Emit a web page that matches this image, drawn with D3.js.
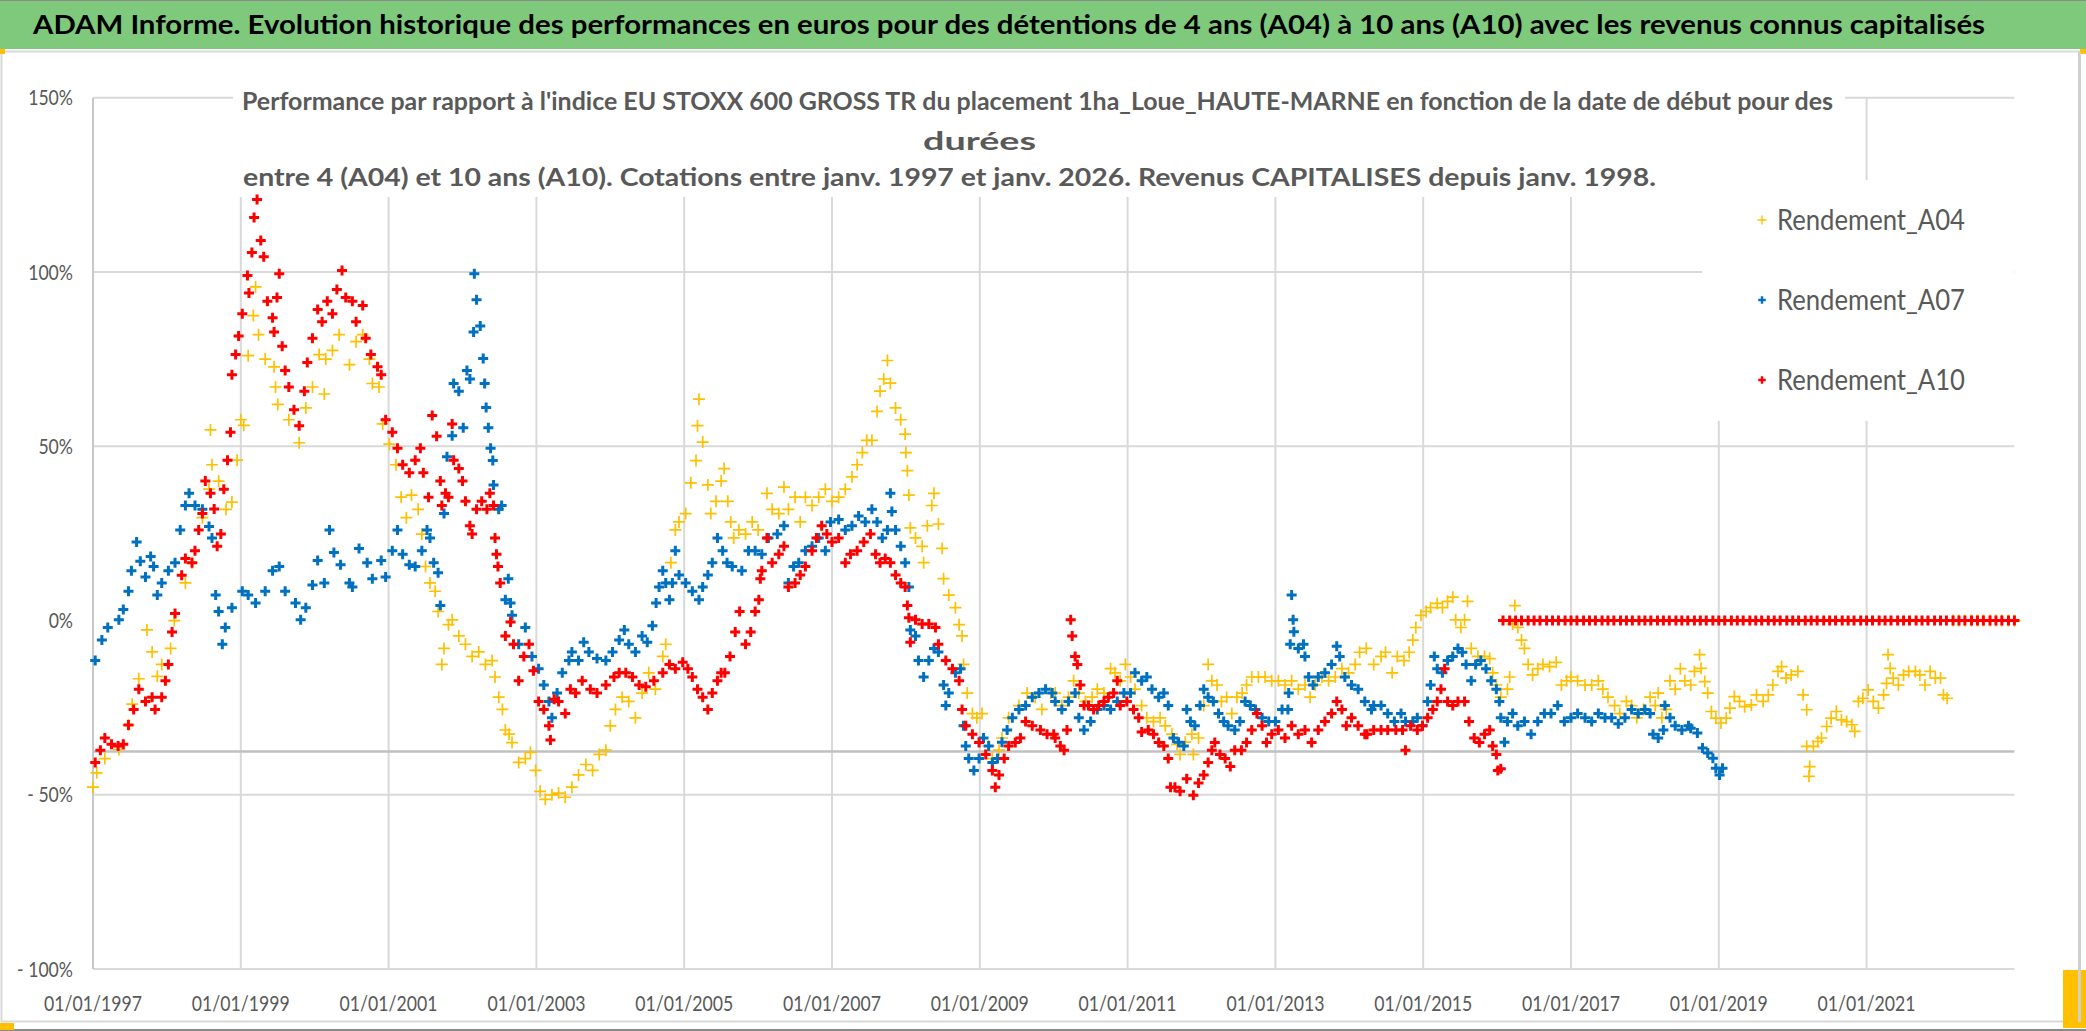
<!DOCTYPE html>
<html>
<head>
<meta charset="utf-8">
<script src="https://cdn.jsdelivr.net/npm/d3@7"></script>
<style>
html, body { margin: 0; padding: 0; background: #fff; }
svg { display: block; font-family: Lato, "Open Sans", sans-serif; }
</style>
</head>
<body>
<svg id="chart" width="2086" height="1031"></svg>
<script>
const W = 2086, H = 1031

const mainTitle = "ADAM Informe. Evolution historique des performances en euros pour des détentions de 4 ans (A04) à 10 ans (A10) avec les revenus connus capitalisés"
const subTitle = [
  "Performance par rapport à l'indice EU STOXX 600 GROSS TR  du placement 1ha_Loue_HAUTE-MARNE en fonction de la date de début pour des",
  "durées",
  "entre 4 (A04) et 10 ans (A10). Cotations entre janv. 1997 et janv. 2026. Revenus CAPITALISES depuis janv. 1998."
]

const seriesNames  = ["Rendement_A04", "Rendement_A07", "Rendement_A10"]
const yTicks       = [150, 100, 50, 0, -50, -100]
const yTickLabels  = ["150%", "100%", "50%", "0%", "- 50%", "- 100%"]
const xTicks       = [1997, 1999, 2001, 2003, 2005, 2007, 2009, 2011, 2013, 2015, 2017, 2019, 2021]
const xTickLabels  = ["01/01/1997", "01/01/1999", "01/01/2001", "01/01/2003", "01/01/2005", "01/01/2007", "01/01/2009",
                      "01/01/2011", "01/01/2013", "01/01/2015", "01/01/2017", "01/01/2019", "01/01/2021"]
const xDomain      = [1997, 2023]
const yDomain      = [-100, 150]
const crossLine    = -37.6   // darker horizontal line of the chart

// [date as decimal year, performance %]
const A04 = [
  [1997.00,-47.8],[1997.05,-43.7],[1997.16,-39.6],[1997.35,-37],[1997.48,-30],[1997.53,-24],[1997.62,-16.7],[1997.73,-2.7],
  [1997.80,-9],[1997.87,-16],[1997.93,-12.6],[1998.05,-8],[1998.10,0],[1998.25,10.8],[1998.34,16.6],[1998.48,29.5],
  [1998.57,37.7],[1998.61,44.7],[1998.59,54.7],[1998.70,40],[1998.80,31.9],[1998.88,34],[1998.95,46],[1999.00,57.6],
  [1999.04,56],[1999.10,76],[1999.17,87.5],[1999.20,95.7],[1999.24,82],[1999.33,75],[1999.45,72.8],[1999.47,67],
  [1999.50,62],[1999.65,57.6],[1999.79,51],[1999.88,61],[1999.97,67],[2000.06,76.3],[2000.13,65],[2000.15,75],
  [2000.24,77.5],[2000.33,82],[2000.47,73.4],[2000.56,80],[2000.65,82],[2000.74,75],[2000.78,68],[2000.87,67],
  [2000.92,56.4],[2001.01,50.6],[2001.10,44.7],[2001.17,35.4],[2001.24,29.5],[2001.31,36],[2001.40,31.9],[2001.45,24.8],
  [2001.50,15.5],[2001.56,10.8],[2001.63,8.4],[2001.67,2.6],[2001.72,-12.6],[2001.75,-8],[2001.81,-1.2],[2001.86,0.2],
  [2001.95,-4.4],[2002.04,-6.8],[2002.13,-10.3],[2002.22,-9],[2002.31,-12.6],[2002.40,-11.5],[2002.44,-16.2],[2002.49,-22],
  [2002.54,-25.5],[2002.58,-31.4],[2002.63,-32.6],[2002.67,-35],[2002.76,-40.7],[2002.85,-39.6],[2002.92,-37.8],[2002.99,-43],
  [2003.05,-49],[2003.12,-51.3],[2003.21,-50],[2003.30,-49.5],[2003.39,-50.7],[2003.48,-47.8],[2003.57,-44.3],[2003.67,-41.3],
  [2003.76,-43],[2003.85,-38.4],[2003.94,-37.2],[2004.00,-30.2],[2004.07,-25.5],[2004.16,-22],[2004.25,-23.2],[2004.34,-27.9],
  [2004.43,-20.8],[2004.52,-15],[2004.61,-19.7],[2004.71,-10.3],[2004.75,-6.8],[2004.82,16.6],[2004.88,26],[2004.93,28.3],
  [2005.02,30.7],[2005.09,39.5],[2005.16,45.9],[2005.18,55.9],[2005.20,63.5],[2005.25,51.2],[2005.32,38.9],[2005.36,30.7],
  [2005.43,34.2],[2005.50,40],[2005.54,43.6],[2005.59,34.2],[2005.63,28.3],[2005.67,23.7],[2005.74,26],[2005.83,24.8],
  [2005.92,28.3],[2006.00,26],[2006.12,36.5],[2006.19,31.9],[2006.28,30.7],[2006.35,38.3],[2006.41,31.9],[2006.50,35.4],
  [2006.57,28.3],[2006.64,35.4],[2006.73,33],[2006.82,35.4],[2006.91,37.7],[2007.00,34.2],[2007.09,35.4],[2007.18,37.7],
  [2007.27,41.2],[2007.34,44.7],[2007.41,48.2],[2007.47,51.7],[2007.54,51.7],[2007.61,60],[2007.65,65.8],[2007.70,69.3],
  [2007.75,74.6],[2007.79,68.1],[2007.86,61],[2007.93,57.6],[2007.99,53.5],[2008.00,48.2],[2008.02,43],[2008.04,36],
  [2008.06,26.6],[2008.13,23.7],[2008.22,21.3],[2008.24,16.6],[2008.29,27.2],[2008.35,33],[2008.38,36.5],[2008.44,27.7],
  [2008.49,20.7],[2008.51,12],[2008.58,7.3],[2008.67,3.7],[2008.72,-1.2],[2008.76,-4.4],[2008.78,-12.6],[2008.83,-20.8],
  [2008.90,-26.7],[2008.96,-27.9],[2009.03,-26.7],[2009.12,-36],[2009.17,-39.6],[2009.26,-37.2],[2009.30,-33.7],[2009.39,-27.9],
  [2009.53,-24.4],[2009.64,-20.8],[2009.75,-22],[2009.84,-25.5],[2009.96,-20.8],[2010.02,-20.8],[2010.11,-24.4],[2010.20,-22],
  [2010.27,-17.3],[2010.34,-20.8],[2010.43,-23.2],[2010.52,-22],[2010.59,-19.7],[2010.68,-20.8],[2010.77,-13.8],[2010.83,-15],
  [2010.90,-17.3],[2010.97,-12.6],[2011.04,-16.2],[2011.10,-19.7],[2011.19,-24.4],[2011.26,-27.9],[2011.35,-29],[2011.44,-27.9],
  [2011.51,-30.2],[2011.60,-32.6],[2011.67,-35.5],[2011.71,-38.4],[2011.78,-34.9],[2011.87,-32.6],[2011.89,-38.4],[2011.96,-33.7],
  [2012.03,-24.4],[2012.09,-12.6],[2012.14,-17.3],[2012.21,-18.5],[2012.27,-23.2],[2012.34,-22],[2012.41,-26.7],[2012.48,-22],
  [2012.55,-20.8],[2012.61,-18.5],[2012.68,-16.2],[2012.77,-16.2],[2012.86,-16.2],[2012.95,-17.3],[2013.04,-17.3],[2013.13,-18.5],
  [2013.22,-17.3],[2013.31,-19.7],[2013.40,-18.5],[2013.47,-22],[2013.54,-18.5],[2013.63,-16.2],[2013.72,-17.3],[2013.81,-16.2],
  [2013.90,-13.8],[2013.99,-15],[2014.08,-12.6],[2014.14,-9.1],[2014.23,-8],[2014.33,-12.6],[2014.43,-10.3],[2014.49,-9.1],
  [2014.58,-15],[2014.65,-10.3],[2014.74,-11.5],[2014.81,-9.1],[2014.86,-5.6],[2014.90,-2],[2014.97,1.5],[2015.04,2.6],
  [2015.10,3.7],[2015.19,4.9],[2015.26,3.7],[2015.33,5.5],[2015.40,6.7],[2015.44,0.2],[2015.51,-2],[2015.56,0.2],
  [2015.60,5.5],[2015.65,-8],[2015.74,-10.3],[2015.83,-10.3],[2015.90,-10.9],[2015.94,-15],[2015.99,-18.5],[2016.05,-22],
  [2016.14,-19.7],[2016.17,-16.2],[2016.21,-1],[2016.24,4.3],[2016.28,-2],[2016.33,-5.6],[2016.37,-8],[2016.42,-12.6],
  [2016.48,-15.6],[2016.55,-13.8],[2016.62,-12.6],[2016.71,-13.2],[2016.80,-12],[2016.87,-18.5],[2016.94,-17.3],[2017.00,-16.2],
  [2017.09,-17.3],[2017.19,-18.5],[2017.28,-18.5],[2017.37,-17.3],[2017.43,-19.7],[2017.50,-22],[2017.59,-24.4],[2017.66,-26.7],
  [2017.75,-23.2],[2017.82,-24.4],[2017.89,-27.9],[2017.98,-25.5],[2018.07,-22],[2018.14,-24.4],[2018.18,-20.8],[2018.23,-27.9],
  [2018.29,-25.5],[2018.34,-17.3],[2018.41,-19.7],[2018.48,-13.8],[2018.54,-17.3],[2018.62,-18.5],[2018.67,-14.6],[2018.74,-9.8],
  [2018.76,-13.7],[2018.81,-17.5],[2018.85,-20.8],[2018.90,-26.1],[2018.96,-28],[2019.03,-29.4],[2019.10,-28],[2019.15,-25.1],
  [2019.21,-21.8],[2019.28,-23.2],[2019.35,-24.7],[2019.44,-24.2],[2019.51,-21.3],[2019.60,-23.2],[2019.67,-21.3],[2019.73,-18.5],
  [2019.80,-14.6],[2019.85,-13.2],[2019.91,-16.5],[2019.98,-15.6],[2020.07,-14.6],[2020.14,-21.3],[2020.19,-25.6],[2020.19,-36.1],
  [2020.22,-44.7],[2020.23,-41.9],[2020.28,-36.1],[2020.34,-34.7],[2020.39,-33.7],[2020.46,-30.4],[2020.52,-28],[2020.59,-26.1],
  [2020.66,-28.5],[2020.73,-29],[2020.80,-29.9],[2020.84,-31.8],[2020.89,-23.2],[2020.95,-22.3],[2021.02,-19.9],[2021.09,-23.2],
  [2021.16,-25.1],[2021.23,-21.3],[2021.27,-18],[2021.29,-9.8],[2021.32,-13.7],[2021.36,-16.5],[2021.43,-18.5],[2021.50,-15.6],
  [2021.57,-14.6],[2021.66,-14.6],[2021.72,-15.6],[2021.79,-18.5],[2021.86,-14.6],[2021.93,-16.5],[2022.00,-16.5],[2022.04,-21.3],
  [2022.09,-22.3],[2022.17,0],[2022.25,0],[2022.33,0],[2022.42,0],[2022.50,0],[2022.58,0],[2022.67,0],[2022.75,0],[2022.83,0],
  [2022.92,0],[2023.00,0]
]

const A07 = [
  [1997.03,-11.5],[1997.12,-5.6],[1997.20,-2],[1997.35,0.2],[1997.41,3.2],[1997.48,8.4],[1997.52,14.3],[1997.59,22.5],
  [1997.64,17],[1997.71,12.5],[1997.78,18.4],[1997.82,15.5],[1997.87,7.3],[1997.93,10.8],[1998.02,14.3],[1998.11,16.6],
  [1998.18,26],[1998.25,33],[1998.30,36.5],[1998.38,33],[1998.48,31.9],[1998.57,27],[1998.61,23.7],[1998.66,7.3],
  [1998.70,2.6],[1998.75,-6.8],[1998.79,-2],[1998.88,3.7],[1999.02,8.4],[1999.10,7.3],[1999.20,5],[1999.33,8.4],
  [1999.43,14.3],[1999.52,15.5],[1999.60,8.4],[1999.74,5],[1999.81,0.2],[1999.88,3.7],[1999.97,10.2],[2000.04,17.2],
  [2000.13,10.8],[2000.20,26],[2000.26,19.5],[2000.35,16],[2000.47,10.8],[2000.51,9.6],[2000.60,20.7],[2000.71,16.6],
  [2000.78,12],[2000.90,17.2],[2000.96,12.5],[2001.05,20],[2001.12,26],[2001.19,19],[2001.28,16],[2001.36,15.5],
  [2001.45,20],[2001.52,26],[2001.56,23.7],[2001.61,16.6],[2001.67,13.7],[2001.70,4.3],[2001.75,30.7],[2001.79,47],
  [2001.86,53],[2001.88,68],[2001.95,65.8],[2002.01,55.3],[2002.06,71.7],[2002.10,69.3],[2002.15,82.8],[2002.16,99.5],
  [2002.19,92],[2002.24,84.5],[2002.28,75.2],[2002.30,68],[2002.32,61.1],[2002.35,55.3],[2002.38,49.4],[2002.41,45.9],
  [2002.42,38.9],[2002.49,31.9],[2002.53,33],[2002.58,6],[2002.62,12],[2002.65,5],[2002.67,1.5],[2002.76,-6.8],
  [2002.85,-2],[2002.94,-10.3],[2003.03,-13.8],[2003.10,-18.5],[2003.17,-23.2],[2003.21,-27.9],[2003.28,-20.8],[2003.35,-15],
  [2003.44,-11.5],[2003.48,-9],[2003.57,-11.5],[2003.64,-6.2],[2003.71,-9],[2003.82,-10.9],[2003.94,-11.5],[2004.03,-9],
  [2004.12,-5.6],[2004.19,-2.7],[2004.25,-6.8],[2004.34,-9],[2004.43,-4.4],[2004.50,-6.2],[2004.57,-1.5],[2004.62,5],
  [2004.66,9.6],[2004.71,14.3],[2004.75,10.8],[2004.80,6],[2004.84,10.8],[2004.88,20],[2004.93,13.1],[2005.02,10.8],
  [2005.11,8.4],[2005.20,6],[2005.25,9.6],[2005.32,13.1],[2005.38,16.6],[2005.45,23.7],[2005.52,20],[2005.58,16.6],
  [2005.65,15.5],[2005.78,14.3],[2005.87,20],[2005.96,20],[2006.05,19],[2006.14,23.7],[2006.26,24.8],[2006.35,27.2],
  [2006.41,10.8],[2006.48,15.5],[2006.55,16.6],[2006.64,20],[2006.73,21.3],[2006.82,23.7],[2006.91,20],[2006.98,28.3],
  [2007.09,29],[2007.18,26],[2007.27,27.2],[2007.36,30],[2007.45,28.3],[2007.54,31.9],[2007.61,28.3],[2007.68,23.7],
  [2007.75,26],[2007.79,36.5],[2007.81,31.3],[2007.86,26],[2007.93,21.3],[2007.99,16.6],[2008.04,9.6],[2008.06,-2.7],
  [2008.13,-4.4],[2008.17,-11.5],[2008.24,-16.2],[2008.31,-11.5],[2008.38,-8],[2008.44,-9],[2008.51,-18.5],[2008.54,-24.4],
  [2008.58,-20.8],[2008.67,-15],[2008.74,-13.8],[2008.78,-30.2],[2008.81,-36],[2008.85,-39.6],[2008.92,-43],[2008.99,-39.6],
  [2009.05,-33.7],[2009.12,-36],[2009.17,-40.7],[2009.24,-39.6],[2009.30,-34.9],[2009.37,-31.4],[2009.44,-27.9],[2009.53,-25.5],
  [2009.62,-24.4],[2009.71,-22],[2009.80,-20.8],[2009.89,-19.7],[2009.98,-20.8],[2010.02,-23.2],[2010.11,-25.5],[2010.20,-23.2],
  [2010.29,-20.8],[2010.34,-27.9],[2010.41,-31.4],[2010.50,-29],[2010.59,-25.5],[2010.68,-24.4],[2010.77,-25.5],[2010.86,-23.2],
  [2010.95,-20.8],[2011.04,-20.8],[2011.10,-15],[2011.19,-17.3],[2011.26,-16.2],[2011.33,-19.7],[2011.42,-22],[2011.49,-20.8],
  [2011.55,-24.4],[2011.62,-33.7],[2011.69,-34.9],[2011.76,-36],[2011.80,-25.5],[2011.85,-29],[2011.91,-30.2],[2011.98,-24.4],
  [2012.03,-19.7],[2012.09,-22],[2012.16,-23.2],[2012.23,-26.7],[2012.30,-29],[2012.36,-30.2],[2012.45,-31.4],[2012.52,-29],
  [2012.59,-23.2],[2012.66,-24.4],[2012.73,-25.5],[2012.82,-27.9],[2012.91,-29],[2013.00,-29],[2013.09,-25.5],[2013.17,-25.5],
  [2013.18,-20.8],[2013.20,-6.8],[2013.22,7.3],[2013.24,0.2],[2013.25,-3.2],[2013.31,-8],[2013.38,-6.8],[2013.40,-10.3],
  [2013.45,-16.2],[2013.51,-18.5],[2013.58,-16.2],[2013.67,-15],[2013.76,-12.6],[2013.83,-7.4],[2013.87,-10.3],[2013.94,-16.2],
  [2014.03,-18.5],[2014.12,-19.7],[2014.21,-23.2],[2014.30,-25.5],[2014.33,-24.4],[2014.43,-24.4],[2014.52,-26.7],[2014.61,-29],
  [2014.70,-26.7],[2014.76,-29],[2014.86,-29],[2014.92,-27.9],[2014.99,-30.2],[2015.06,-23.2],[2015.10,-18.5],[2015.15,-10.3],
  [2015.19,-13.8],[2015.26,-15],[2015.33,-11.5],[2015.40,-10.3],[2015.47,-8],[2015.53,-9.1],[2015.58,-12.6],[2015.65,-17.3],
  [2015.71,-12.6],[2015.78,-11.5],[2015.85,-13.8],[2015.92,-17.3],[2015.99,-19.7],[2016.03,-23.2],[2016.05,-27.9],[2016.10,-34.9],
  [2016.14,-29],[2016.21,-26.7],[2016.28,-30.2],[2016.37,-29],[2016.46,-32.6],[2016.55,-29],[2016.64,-26.7],[2016.73,-26.7],
  [2016.82,-24.4],[2016.91,-29],[2017.00,-27.9],[2017.09,-26.7],[2017.19,-27.9],[2017.28,-29],[2017.37,-26.7],[2017.46,-27.9],
  [2017.55,-27.9],[2017.64,-29.6],[2017.73,-27.9],[2017.82,-25.5],[2017.91,-26.7],[2018.00,-25.5],[2018.07,-26.7],[2018.11,-32.6],
  [2018.18,-33.7],[2018.25,-31.4],[2018.27,-24.4],[2018.34,-27.9],[2018.41,-30.2],[2018.50,-31.4],[2018.59,-30.2],[2018.62,-30.9],
  [2018.71,-32.3],[2018.78,-36.6],[2018.85,-38],[2018.92,-39.5],[2018.96,-42.4],[2019.01,-44.3],[2019.05,-42.4]
]

const A10 = [
  [1997.03,-40.7],[1997.10,-37.2],[1997.16,-33.7],[1997.25,-35.5],[1997.34,-36],[1997.41,-35.5],[1997.48,-30],[1997.55,-25.5],
  [1997.62,-19.7],[1997.71,-23.2],[1997.80,-22],[1997.84,-25.5],[1997.93,-22],[1997.98,-17.3],[1998.02,-12.6],[1998.07,-3.3],
  [1998.11,2],[1998.20,13],[1998.25,17.8],[1998.34,16.6],[1998.38,20],[1998.43,26],[1998.48,30.7],[1998.52,40],
  [1998.59,36.5],[1998.64,32],[1998.68,21.3],[1998.73,24.8],[1998.77,37.7],[1998.82,46],[1998.86,54],[1998.88,70.5],
  [1998.93,76.3],[1998.97,81.6],[1999.02,88],[1999.09,99],[1999.11,94],[1999.15,105.6],[1999.18,115.6],[1999.22,120.8],
  [1999.27,109],[1999.31,104.4],[1999.36,91.6],[1999.43,86.9],[1999.45,82.8],[1999.49,92.7],[1999.52,99.5],[1999.56,78.7],
  [1999.60,71.7],[1999.65,67],[1999.72,60.5],[1999.79,55.9],[1999.86,65.8],[1999.90,74],[1999.97,81],[2000.04,89.2],
  [2000.10,85.7],[2000.17,91.6],[2000.24,88],[2000.30,95],[2000.37,100.4],[2000.42,92.7],[2000.51,91.6],[2000.56,85.7],
  [2000.65,90.4],[2000.69,81],[2000.76,76.3],[2000.85,72.8],[2000.90,70.5],[2000.96,57.6],[2001.05,54],[2001.12,49.4],
  [2001.19,44.7],[2001.28,42.4],[2001.36,46],[2001.43,49.4],[2001.47,42.4],[2001.54,35.4],[2001.59,58.8],[2001.65,52.9],
  [2001.70,40],[2001.72,33],[2001.77,36.5],[2001.81,35.4],[2001.86,56.4],[2001.88,46],[2001.95,43.6],[2002.00,40],
  [2002.04,34.2],[2002.10,27.2],[2002.13,24.8],[2002.19,31.9],[2002.26,34.2],[2002.33,31.9],[2002.37,36.5],[2002.42,33],
  [2002.44,23.7],[2002.46,19],[2002.48,15.5],[2002.51,10.8],[2002.58,-4.4],[2002.65,-0.4],[2002.69,-6.8],[2002.76,-17.3],
  [2002.83,-10.3],[2002.90,-6.8],[2002.96,-14.4],[2003.03,-23.2],[2003.10,-25.5],[2003.17,-30.2],[2003.19,-34.3],[2003.24,-22.6],
  [2003.30,-23.2],[2003.39,-26.7],[2003.46,-19.7],[2003.53,-20.8],[2003.62,-17.3],[2003.73,-19.7],[2003.82,-20.8],[2003.94,-18.5],
  [2004.05,-16.2],[2004.12,-15],[2004.21,-15],[2004.30,-16.2],[2004.39,-18.5],[2004.48,-19],[2004.59,-17.3],[2004.71,-15],
  [2004.80,-12.6],[2004.88,-13.8],[2004.98,-12],[2005.05,-13.8],[2005.11,-16.2],[2005.18,-19.7],[2005.25,-22],[2005.32,-25.5],
  [2005.38,-20.8],[2005.45,-17.3],[2005.50,-15],[2005.55,-15],[2005.62,-10.3],[2005.69,-3.3],[2005.75,2.6],[2005.83,-6.8],
  [2005.90,-3.3],[2005.96,2.6],[2006.01,6],[2006.03,12],[2006.05,14.3],[2006.12,23.7],[2006.19,16.6],[2006.28,19],
  [2006.35,21.3],[2006.41,9.6],[2006.50,10.8],[2006.57,13.1],[2006.64,15.5],[2006.73,20],[2006.79,23.7],[2006.86,27.2],
  [2006.93,24.8],[2007.00,22.5],[2007.09,23.7],[2007.18,16.6],[2007.25,19],[2007.34,20],[2007.43,22.5],[2007.52,24.8],
  [2007.59,19],[2007.65,16.6],[2007.72,17.8],[2007.79,16.6],[2007.86,13.1],[2007.93,10.8],[2007.99,9.6],[2008.02,4.3],
  [2008.04,0.8],[2008.06,-6.2],[2008.13,0.2],[2008.22,-1],[2008.31,-1],[2008.40,-2],[2008.44,-6.8],[2008.54,-11.5],
  [2008.63,-13.8],[2008.72,-17.3],[2008.76,-25.5],[2008.81,-30.2],[2008.90,-32.6],[2008.99,-35],[2009.08,-38.4],[2009.17,-43],
  [2009.21,-47.8],[2009.26,-44.3],[2009.33,-39.6],[2009.39,-36],[2009.48,-35],[2009.55,-33.7],[2009.62,-29],[2009.71,-30.2],
  [2009.82,-31.4],[2009.91,-32.6],[2010.00,-32.6],[2010.02,-33.7],[2010.09,-36],[2010.14,-37.2],[2010.18,-31.4],[2010.23,0.2],
  [2010.25,-4.4],[2010.29,-10.3],[2010.32,-12.6],[2010.36,-18.5],[2010.41,-24.4],[2010.47,-24.4],[2010.54,-25.5],[2010.61,-24.4],
  [2010.68,-23.2],[2010.74,-22],[2010.81,-20.8],[2010.86,-17.3],[2010.90,-24.4],[2010.99,-23.2],[2011.08,-25.5],[2011.15,-27.9],
  [2011.19,-32],[2011.28,-31.4],[2011.35,-32.6],[2011.42,-35],[2011.49,-36],[2011.55,-39.6],[2011.58,-47.8],[2011.64,-47.8],
  [2011.71,-49],[2011.80,-45.4],[2011.89,-50.1],[2011.96,-46.6],[2012.03,-44.3],[2012.09,-40.7],[2012.14,-37.2],[2012.18,-35],
  [2012.25,-38.4],[2012.32,-39.6],[2012.39,-41.9],[2012.45,-37.2],[2012.54,-37.2],[2012.61,-35],[2012.68,-31.4],[2012.75,-26.7],
  [2012.82,-30.2],[2012.88,-35],[2012.95,-32.6],[2013.04,-31.4],[2013.13,-33.7],[2013.22,-30.2],[2013.31,-32.6],[2013.40,-31.4],
  [2013.49,-35],[2013.58,-31.4],[2013.67,-29],[2013.76,-26.7],[2013.83,-23.2],[2013.90,-25.5],[2013.96,-30.2],[2014.03,-27.9],
  [2014.12,-30.2],[2014.21,-32.6],[2014.24,-32.6],[2014.33,-31.4],[2014.43,-31.4],[2014.52,-31.4],[2014.63,-31.4],[2014.72,-31.4],
  [2014.76,-37.2],[2014.83,-30.2],[2014.92,-31.4],[2014.99,-30.2],[2015.06,-27.9],[2015.13,-25.5],[2015.19,-23.2],[2015.24,-19.7],
  [2015.29,-13.8],[2015.33,-23.2],[2015.40,-24.4],[2015.47,-23.2],[2015.56,-23.2],[2015.62,-29],[2015.69,-33.7],[2015.76,-35],
  [2015.83,-32.6],[2015.90,-31.4],[2015.94,-36],[2015.99,-38.4],[2016.01,-43],[2016.05,-42.5],
  [2016.08,0],[2016.17,0],[2016.25,0],[2016.33,0],[2016.42,0],[2016.50,0],[2016.58,0],[2016.67,0],[2016.75,0],[2016.83,0],
  [2016.92,0],[2017.00,0],[2017.08,0],[2017.17,0],[2017.25,0],[2017.33,0],[2017.42,0],[2017.50,0],[2017.58,0],[2017.67,0],
  [2017.75,0],[2017.83,0],[2017.92,0],[2018.00,0],[2018.08,0],[2018.17,0],[2018.25,0],[2018.33,0],[2018.42,0],[2018.50,0],
  [2018.58,0],[2018.67,0],[2018.75,0],[2018.83,0],[2018.92,0],[2019.00,0],[2019.08,0],[2019.17,0],[2019.25,0],[2019.33,0],
  [2019.42,0],[2019.50,0],[2019.58,0],[2019.67,0],[2019.75,0],[2019.83,0],[2019.92,0],[2020.00,0],[2020.08,0],[2020.17,0],
  [2020.25,0],[2020.33,0],[2020.42,0],[2020.50,0],[2020.58,0],[2020.67,0],[2020.75,0],[2020.83,0],[2020.92,0],[2021.00,0],
  [2021.08,0],[2021.17,0],[2021.25,0],[2021.33,0],[2021.42,0],[2021.50,0],[2021.58,0],[2021.67,0],[2021.75,0],[2021.83,0],
  [2021.92,0],[2022.00,0],[2022.08,0],[2022.17,0],[2022.25,0],[2022.33,0],[2022.42,0],[2022.50,0],[2022.58,0],[2022.67,0],
  [2022.75,0],[2022.83,0],[2022.92,0],[2023.00,0]
]

const series = [
  { name: seriesNames[0], data: A04, color: "#FFC000", arm: 6,   width: 1.7 },
  { name: seriesNames[1], data: A07, color: "#0070C0", arm: 5,   width: 3 },
  { name: seriesNames[2], data: A10, color: "#FF0000", arm: 5,   width: 3 }
]

const svg = d3.select("#chart")

function plus(s) { return `M${-s},0H${s}M0,${-s}V${s}` }

// frame + green banner
svg.append("rect").attr("x", 0).attr("y", 0).attr("width", W).attr("height", H).attr("fill", "#fff")
svg.append("rect").attr("x", 1.5).attr("y", 51.5).attr("width", 2078).attr("height", 970)
  .attr("fill", "#fff").attr("stroke", "#d9d9d9").attr("stroke-width", 2)
svg.append("rect").attr("x", 0).attr("y", 0).attr("width", W).attr("height", 49).attr("fill", "#7fc97c")
svg.append("line").attr("x1", 0).attr("x2", W).attr("y1", 0.5).attr("y2", 0.5).attr("stroke", "#8a8a8a")
svg.append("line").attr("x1", 0).attr("x2", W).attr("y1", 1030).attr("y2", 1030).attr("stroke", "#8a8a8a").attr("stroke-width", 2)
svg.append("rect").attr("x", 0).attr("y", 49).attr("width", 5).attr("height", 5).attr("fill", "#ffc000")
svg.append("rect").attr("x", 2080).attr("y", 49).attr("width", 6).attr("height", 5).attr("fill", "#ffc000")
svg.append("rect").attr("x", 0).attr("y", 1023).attr("width", 14).attr("height", 7).attr("fill", "#ffc000")
svg.append("rect").attr("x", 2063).attr("y", 970).attr("width", 23).attr("height", 58).attr("fill", "#ffc000")
svg.append("rect").attr("x", 2078).attr("y", 52).attr("width", 3).attr("height", 970).attr("fill", "#d0d0d0")

svg.append("text").attr("x", 33).attr("y", 34).attr("font-size", 27).attr("font-weight", 700)
  .attr("fill", "#000").text(mainTitle)
  .attr("textLength", 1952).attr("lengthAdjust", "spacingAndGlyphs")

// scales
const x = d3.scaleLinear().domain(xDomain).range([93, 2014.4])
const y = d3.scaleLinear().domain(yDomain).range([969.1, 97.7])

const grid = svg.append("g")
grid.selectAll("line.h").data(yTicks.filter(v => v !== 0)).enter().append("line")
  .attr("x1", x(xDomain[0])).attr("x2", x(xDomain[1]))
  .attr("y1", d => y(d)).attr("y2", d => y(d))
  .attr("stroke", "#d9d9d9").attr("stroke-width", 2)
grid.selectAll("line.v").data(xTicks).enter().append("line")
  .attr("x1", d => x(d)).attr("x2", d => x(d))
  .attr("y1", y(yDomain[1])).attr("y2", y(yDomain[0]))
  .attr("stroke", "#d9d9d9").attr("stroke-width", 2)
grid.append("line").attr("x1", x(xDomain[0])).attr("x2", x(xDomain[1]))
  .attr("y1", y(crossLine)).attr("y2", y(crossLine)).attr("stroke", "#c0c0c0").attr("stroke-width", 2.5)
grid.append("line").attr("x1", x(xDomain[0])).attr("x2", x(xDomain[0]))
  .attr("y1", y(yDomain[1])).attr("y2", y(yDomain[0])).attr("stroke", "#c8c8c8").attr("stroke-width", 2)

// axis labels (narrowed: the original font is a condensed one)
svg.append("g").selectAll("text").data(yTicks).enter().append("text")
  .attr("x", 73).attr("y", d => y(d)).attr("dy", "0.36em")
  .attr("text-anchor", "end").attr("font-size", 21).attr("fill", "#595959")
  .text((d, i) => yTickLabels[i])
  .each(function () {
    d3.select(this).attr("textLength", this.getComputedTextLength() * 0.84).attr("lengthAdjust", "spacingAndGlyphs")
  })
svg.append("g").selectAll("text").data(xTicks).enter().append("text")
  .attr("x", d => x(d)).attr("y", 1011)
  .attr("text-anchor", "middle").attr("font-size", 22).attr("fill", "#595959")
  .text((d, i) => xTickLabels[i])
  .attr("textLength", 98).attr("lengthAdjust", "spacingAndGlyphs")

// subtitle box
svg.append("rect").attr("x", 233).attr("y", 70).attr("width", 1612).attr("height", 127).attr("fill", "#fff")
const subY = [102, 142, 178]
const subX = [242, 923, 243]
const subW = [1591, 113, 1413]
const sub = svg.append("g").attr("font-size", 24).attr("font-weight", 700).attr("fill", "#595959")
subTitle.forEach((t, i) => {
  sub.append("text").attr("x", subX[i]).attr("y", subY[i]).attr("dy", "0.35em").text(t)
    .attr("textLength", subW[i]).attr("lengthAdjust", "spacingAndGlyphs")
})

// markers
const marks = svg.append("g")
series.forEach(s => {
  marks.append("g").selectAll("path").data(s.data).enter().append("path")
    .attr("transform", d => `translate(${x(d[0])},${y(d[1])})`)
    .attr("d", plus(s.arm))
    .attr("stroke", s.color).attr("stroke-width", s.width).attr("fill", "none")
})

// legend
const lg = svg.append("g")
lg.append("rect").attr("x", 1702).attr("y", 180).attr("width", 312).attr("height", 241).attr("fill", "#fff")
series.forEach((s, i) => {
  const cy = 220 + i * 80
  lg.append("path").attr("transform", `translate(1762,${cy})`).attr("d", plus(s.arm * 0.75))
    .attr("stroke", s.color).attr("stroke-width", s.width * 0.8).attr("fill", "none")
  lg.append("text").attr("x", 1777).attr("y", cy).attr("dy", "0.36em")
    .attr("font-size", 28).attr("fill", "#595959").text(s.name)
    .attr("textLength", 188).attr("lengthAdjust", "spacingAndGlyphs")
})
</script>
</body>
</html>
